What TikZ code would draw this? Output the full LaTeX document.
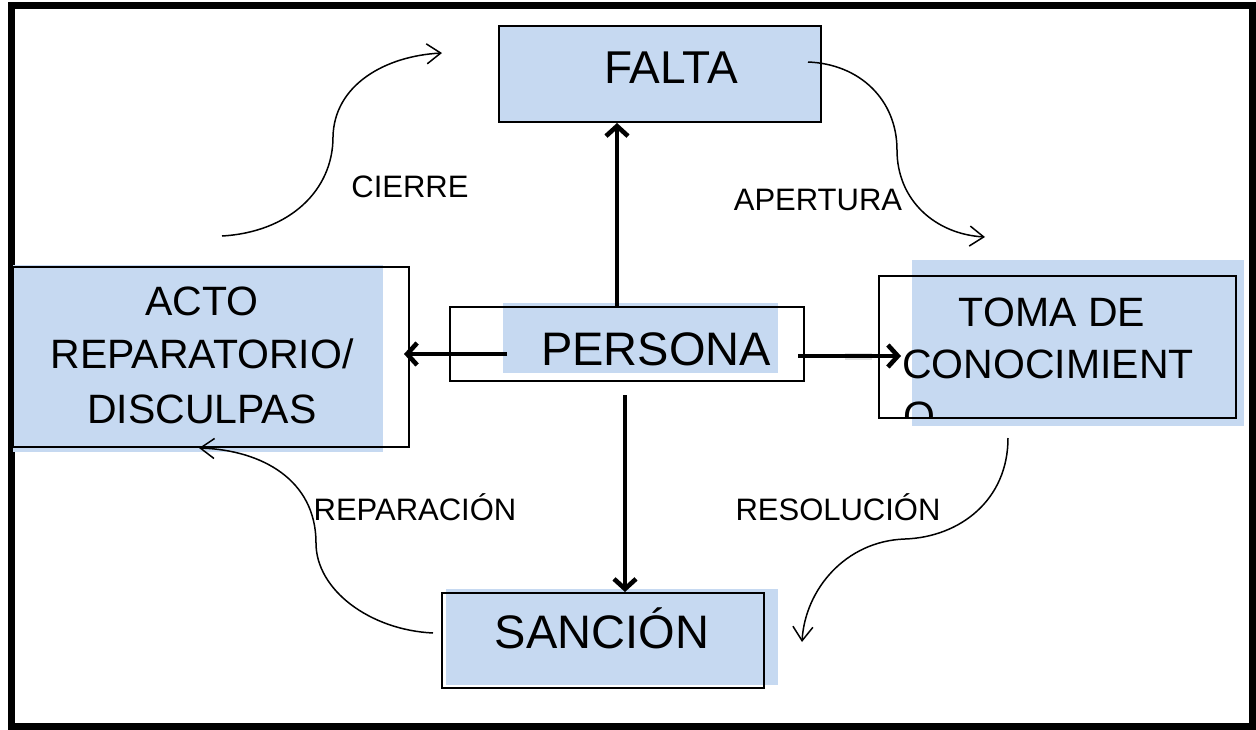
\documentclass[tikz,border=0pt]{standalone}
\usepackage{fontspec}
\setmainfont{Liberation Sans}
\usetikzlibrary{arrows.meta}
\definecolor{boxblue}{RGB}{198,217,241}
\tikzset{
  bluefill/.style={fill=boxblue},
  boxline/.style={draw=black, line width=2pt, rectangle, inner sep=0pt, fill=none},
  bigtext/.style={anchor=base, inner sep=0pt, font=\fontsize{46}{50}\selectfont},
  midtext/.style={anchor=base, inner sep=0pt, font=\fontsize{41}{46}\selectfont},
  labeltext/.style={anchor=base, inner sep=0pt, font=\fontsize{31}{34}\selectfont},
  thickarrow/.style={line width=4.6pt, -{Straight Barb[length=10pt,width=22pt]}},
  thinarrow/.style={line width=1.5pt, -{Straight Barb[length=14pt,width=20pt]}},
}
\begin{document}
\begin{tikzpicture}[x=1pt,y=-1pt]
\useasboundingbox (0,0) rectangle (1256,729);
\fill[white] (0,0) rectangle (1256,729);
% outer frame
\draw[line width=7pt] (11,5.5) rectangle (1252.5,726);

% blue fills
\fill[bluefill] (499,26) rectangle (821,122);
\fill[bluefill] (503,303) rectangle (778,373);
\fill[bluefill] (912,260) rectangle (1244,426);
\fill[bluefill] (13,265) rectangle (383,452);
\fill[bluefill] (446,589) rectangle (778,685);

% box outlines
\node[boxline, minimum width=322pt, minimum height=96pt] (falta) at (660,74) {};
\node[boxline, minimum width=354pt, minimum height=74pt] (persona) at (627,344) {};
\node[boxline, minimum width=357pt, minimum height=142pt] (toma) at (1057.5,347) {};
\node[boxline, minimum width=396pt, minimum height=180pt] (acto) at (211,357) {};
\node[boxline, minimum width=322pt, minimum height=95pt] (sancion) at (603,640.5) {};

% texts
\node[bigtext] (tfalta) at (671,83) {FALTA};
\node[bigtext, font=\fontsize{47}{50}\selectfont] (tpersona) at (656,365) {PERSONA};
\node[bigtext, font=\fontsize{47}{50}\selectfont] (tsancion) at (602,648) {SANCIÓN};
\node[midtext] (ttoma1) at (1052,326) {TOMA DE};
\node[midtext, anchor=base west] (ttoma2) at (902,378) {CONOCIMIENT};
\begin{scope}
\clip (879,276) rectangle (1236,418);
\node[midtext, anchor=base west] (ttoma3) at (903,430) {O};
\end{scope}
\node[midtext] (tacto1) at (202,315) {ACTO};
\node[midtext] (tacto2) at (202,368) {REPARATORIO/};
\node[midtext] (tacto3) at (202,423) {DISCULPAS};

% labels
\node[labeltext] (lcierre) at (410,197) {CIERRE};
\node[labeltext] (lapertura) at (818,210) {APERTURA};
\node[labeltext] (lreparacion) at (415,520) {REPARACIÓN};
\node[labeltext] (lresolucion) at (838,520) {RESOLUCIÓN};

% straight arrows from PERSONA
\coordinate (pl) at (507,354);
\coordinate (pr) at (798,356);
\coordinate (pd) at (625,395);
\coordinate (tr) at (901,356);
\coordinate (al) at (404,354);
\draw[gray!40, line width=7pt, opacity=0.6] (845,356) -- (872,356);
\draw[thickarrow] (persona.north -| 617,0) -- (falta.south -| 617,0);
\draw[thickarrow] (pl) -- (al);
\draw[thickarrow] (pr) -- (tr);
\draw[thickarrow] (pd) -- (pd |- sancion.north);

% curved arrows
\coordinate (c1s) at (222,236);
\coordinate (c1e) at (442,53);
\draw[thinarrow] (c1s) .. controls (290,232) and (333,190) .. (333,137)
  .. controls (334,85) and (385,56) .. (c1e);
\coordinate (c2s) at (808,62);
\coordinate (c2e) at (985,237);
\draw[thinarrow] (c2s) .. controls (860,64) and (897,100) .. (897,150)
  .. controls (897,200) and (935,234) .. (c2e);
\coordinate (c3s) at (1008,438);
\coordinate (c3e) at (802,642);
\draw[thinarrow] (c3s) .. controls (1008,500) and (960,537) .. (905,539)
  .. controls (845,541) and (805,590) .. (c3e);
\coordinate (c4s) at (433,633);
\coordinate (c4e) at (199,448);
\draw[thinarrow] (c4s) .. controls (370,630) and (316,590) .. (316,543)
  .. controls (316,480) and (262,450) .. (c4e);
\end{tikzpicture}
\end{document}
